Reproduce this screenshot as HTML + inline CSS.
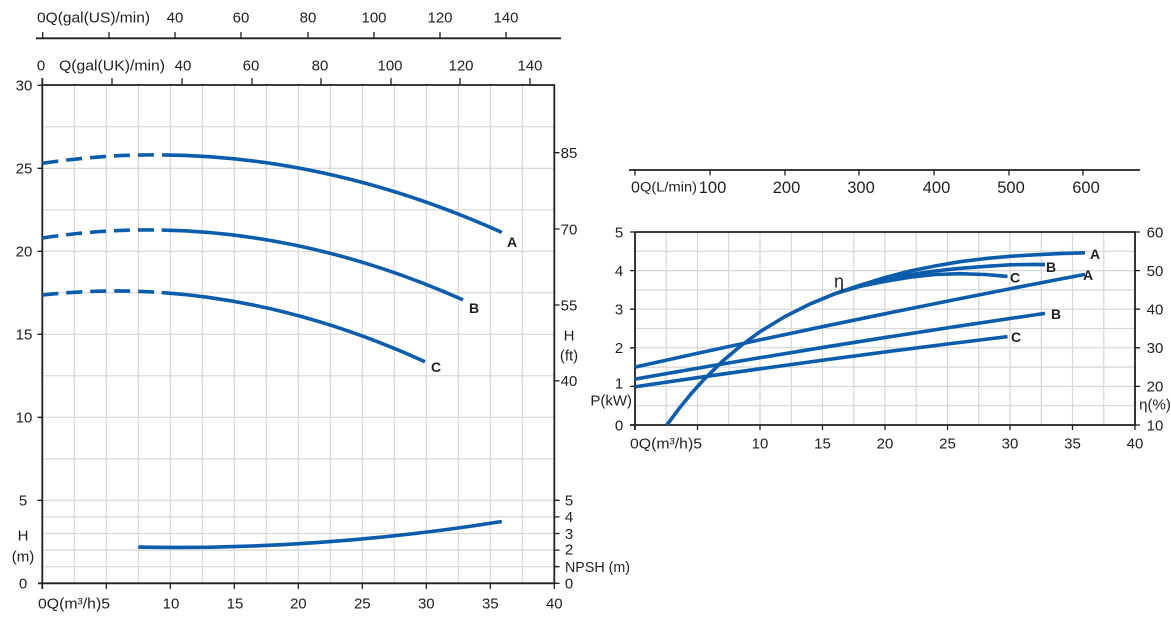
<!DOCTYPE html>
<html><head><meta charset="utf-8"><style>
html,body{margin:0;padding:0;background:#fff;}
svg{display:block;}
text{font-family:"Liberation Sans",sans-serif;fill:#231f20;font-size:15px;}
.b{font-weight:bold;font-size:14px;}
.g{stroke:#d6d6d6;stroke-width:1.2;fill:none;}
.ax{stroke:#231f20;stroke-width:1.8;fill:none;}
.tk{stroke:#231f20;stroke-width:1.3;fill:none;}
.cv{stroke:#0b5dab;stroke-width:3.6;fill:none;stroke-linejoin:round;}
</style></head><body>
<svg width="1171" height="620" viewBox="0 0 1171 620" xmlns="http://www.w3.org/2000/svg">
<!-- ========== LEFT CHART ========== -->
<!-- grid vertical -->
<g class="g">
<path d="M74.3 85V583.3M106.3 85V583.3M138.3 85V583.3M170.3 85V583.3M202.3 85V583.3M234.3 85V583.3M266.3 85V583.3M298.3 85V583.3M330.3 85V583.3M362.3 85V583.3M394.3 85V583.3M426.3 85V583.3M458.3 85V583.3M490.3 85V583.3M522.3 85V583.3"/>
<path d="M42.3 566.7H554.3M42.3 550.1H554.3M42.3 533.5H554.3M42.3 516.9H554.3M42.3 500.3H554.3M42.3 458.8H554.3M42.3 417.3H554.3M42.3 375.8H554.3M42.3 334.3H554.3M42.3 292.8H554.3M42.3 251.3H554.3M42.3 209.8H554.3M42.3 168.3H554.3M42.3 126.8H554.3"/>
</g>
<!-- frame -->
<path class="ax" d="M42.3 78V589M38 583.3H554.3V85H42.3"/>
<!-- top US axis -->
<path class="ax" d="M36 38.3H561"/>
<path class="tk" d="M42.7 32V38.3M109 32V38.3M175 32V38.3M241 32V38.3M308 32V38.3M374 32V38.3M440 32V38.3M506 32V38.3"/>
<text x="37" y="17" dy="0.35em" textLength="113" lengthAdjust="spacingAndGlyphs">0Q(gal(US)/min)</text>
<text x="175" y="17" dy="0.35em" text-anchor="middle">40</text>
<text x="241" y="17" dy="0.35em" text-anchor="middle">60</text>
<text x="308" y="17" dy="0.35em" text-anchor="middle">80</text>
<text x="374" y="17" dy="0.35em" text-anchor="middle">100</text>
<text x="440" y="17" dy="0.35em" text-anchor="middle">120</text>
<text x="506" y="17" dy="0.35em" text-anchor="middle">140</text>
<!-- UK axis (top of frame) -->
<path class="tk" d="M112 78V85M182 78V85M252 78V85M321 78V85M391 78V85M460 78V85M530 78V85"/>
<text x="41" y="65" dy="0.35em" text-anchor="middle">0</text>
<text x="59" y="65" dy="0.35em" textLength="106" lengthAdjust="spacingAndGlyphs">Q(gal(UK)/min)</text>
<text x="183" y="65" dy="0.35em" text-anchor="middle">40</text>
<text x="251" y="65" dy="0.35em" text-anchor="middle">60</text>
<text x="320" y="65" dy="0.35em" text-anchor="middle">80</text>
<text x="390" y="65" dy="0.35em" text-anchor="middle">100</text>
<text x="461" y="65" dy="0.35em" text-anchor="middle">120</text>
<text x="530" y="65" dy="0.35em" text-anchor="middle">140</text>
<!-- left ticks & labels -->
<path class="tk" d="M37.5 85.3H42.3M37.5 168.3H42.3M37.5 251.3H42.3M37.5 334.3H42.3M37.5 417.3H42.3M37.5 500.3H42.3"/>
<text x="24" y="85.3" dy="0.35em" text-anchor="middle">30</text>
<text x="24" y="168.3" dy="0.35em" text-anchor="middle">25</text>
<text x="24" y="251.3" dy="0.35em" text-anchor="middle">20</text>
<text x="24" y="334.3" dy="0.35em" text-anchor="middle">15</text>
<text x="24" y="417.3" dy="0.35em" text-anchor="middle">10</text>
<text x="23" y="500.3" dy="0.35em" text-anchor="middle">5</text>
<text x="23" y="535" dy="0.35em" text-anchor="middle">H</text>
<text x="23" y="556" dy="0.35em" text-anchor="middle">(m)</text>
<text x="23" y="583.3" dy="0.35em" text-anchor="middle">0</text>
<!-- bottom ticks & labels -->
<path class="tk" d="M106.3 583.3V589M170.3 583.3V589M234.3 583.3V589M298.3 583.3V589M362.3 583.3V589M426.3 583.3V589M490.3 583.3V589M554.3 583.3V589"/>
<text x="38" y="603" dy="0.35em" textLength="72" lengthAdjust="spacingAndGlyphs">0Q(m³/h)5</text>
<text x="171" y="603" dy="0.35em" text-anchor="middle">10</text>
<text x="235" y="603" dy="0.35em" text-anchor="middle">15</text>
<text x="298.3" y="603" dy="0.35em" text-anchor="middle">20</text>
<text x="362.3" y="603" dy="0.35em" text-anchor="middle">25</text>
<text x="426.3" y="603" dy="0.35em" text-anchor="middle">30</text>
<text x="490.3" y="603" dy="0.35em" text-anchor="middle">35</text>
<text x="554.3" y="603" dy="0.35em" text-anchor="middle">40</text>
<!-- right ticks & labels -->
<path class="tk" d="M554.3 152.7H559.5M554.3 229H559.5M554.3 305H559.5M554.3 380.8H559.5M554.3 500.3H559.5M554.3 516.9H559.5M554.3 533.5H559.5M554.3 550.1H559.5M554.3 566.7H559.5M554.3 583.3H559.5"/>
<text x="569" y="152.7" dy="0.35em" text-anchor="middle">85</text>
<text x="569" y="229" dy="0.35em" text-anchor="middle">70</text>
<text x="569" y="305" dy="0.35em" text-anchor="middle">55</text>
<text x="569" y="335" dy="0.35em" text-anchor="middle">H</text>
<text x="569" y="355" dy="0.35em" text-anchor="middle">(ft)</text>
<text x="569" y="380.8" dy="0.35em" text-anchor="middle">40</text>
<text x="569" y="500.3" dy="0.35em" text-anchor="middle">5</text>
<text x="569" y="516.9" dy="0.35em" text-anchor="middle">4</text>
<text x="569" y="533.5" dy="0.35em" text-anchor="middle">3</text>
<text x="569" y="549" dy="0.35em" text-anchor="middle">2</text>
<text x="565" y="566.7" dy="0.35em" textLength="65" lengthAdjust="spacingAndGlyphs">NPSH (m)</text>
<text x="569" y="583.3" dy="0.35em" text-anchor="middle">0</text>
<!-- curves -->
<path class="cv" stroke-dasharray="16 8" d="M42.3 163.3Q102.1 154.5 158 154.9"/>
<path class="cv" d="M162 154.9Q331.9 156.1 501.8 232.4"/>
<path class="cv" stroke-dasharray="16 8" d="M42.3 238Q102 229 157.5 230"/>
<path class="cv" d="M161.7 230.1Q312.4 232.8 463 299.9"/>
<path class="cv" stroke-dasharray="16 8" d="M42.3 295Q102 288.6 157.5 292.3"/>
<path class="cv" d="M161.7 292.6Q293.4 301.6 425 361.7"/>
<path class="cv" d="M138.3 547.1Q320.1 550.5 501.8 521.5"/>
<text class="b" x="512" y="242" dy="0.35em" text-anchor="middle">A</text>
<text class="b" x="474" y="308" dy="0.35em" text-anchor="middle">B</text>
<text class="b" x="436" y="367" dy="0.35em" text-anchor="middle">C</text>

<!-- ========== RIGHT CHART ========== -->
<!-- L/min axis -->
<path class="ax" d="M629 170H1140"/>
<path class="tk" d="M635 170V175.5M710 170V175.5M785 170V175.5M859 170V175.5M934 170V175.5M1009 170V175.5M1083 170V175.5"/>
<text x="631" y="187" dy="0.35em" style="font-size:16px">0</text>
<text x="640" y="187" dy="0.35em" style="font-size:13.5px" textLength="57" lengthAdjust="spacingAndGlyphs">Q(L/min)</text>
<text x="712.5" y="187" dy="0.35em" text-anchor="middle" style="font-size:16.5px">100</text>
<text x="786.5" y="187" dy="0.35em" text-anchor="middle" style="font-size:16.5px">200</text>
<text x="861" y="187" dy="0.35em" text-anchor="middle" style="font-size:16.5px">300</text>
<text x="936.5" y="187" dy="0.35em" text-anchor="middle" style="font-size:16.5px">400</text>
<text x="1011" y="187" dy="0.35em" text-anchor="middle" style="font-size:16.5px">500</text>
<text x="1086" y="187" dy="0.35em" text-anchor="middle" style="font-size:16.5px">600</text>
<!-- grid -->
<g class="g">
<path d="M666.25 232V425M697.5 232V425M728.75 232V425M760 232V425M791.25 232V425M822.5 232V425M853.75 232V425M885 232V425M916.25 232V425M947.5 232V425M978.75 232V425M1010 232V425M1041.25 232V425M1072.5 232V425M1103.75 232V425"/>
<path d="M635 405.7H1135M635 386.4H1135M635 367.1H1135M635 347.8H1135M635 328.5H1135M635 309.2H1135M635 289.9H1135M635 270.6H1135M635 251.3H1135"/>
</g>
<path class="ax" d="M635 232V430M630 425H1135V232H635"/>
<path class="tk" d="M630 232H635M630 270.6H635M630 309.2H635M630 347.8H635M630 386.4H635M1135 232H1140M1135 270.6H1140M1135 309.2H1140M1135 347.8H1140M1135 386.4H1140M1135 425H1140"/>
<path class="tk" d="M697.5 425V430M760 425V430M822.5 425V430M885 425V430M947.5 425V430M1010 425V430M1072.5 425V430M1135 425V430"/>
<text x="619" y="232" dy="0.35em" text-anchor="middle">5</text>
<text x="619" y="270.6" dy="0.35em" text-anchor="middle">4</text>
<text x="619" y="309.2" dy="0.35em" text-anchor="middle">3</text>
<text x="619" y="347.8" dy="0.35em" text-anchor="middle">2</text>
<text x="619" y="383" dy="0.35em" text-anchor="middle">1</text>
<text x="632" y="400" dy="0.35em" text-anchor="end">P(kW)</text>
<text x="619" y="425" dy="0.35em" text-anchor="middle">0</text>
<text x="1155" y="232" dy="0.35em" text-anchor="middle">60</text>
<text x="1155" y="270.6" dy="0.35em" text-anchor="middle">50</text>
<text x="1155" y="309.2" dy="0.35em" text-anchor="middle">40</text>
<text x="1155" y="347.8" dy="0.35em" text-anchor="middle">30</text>
<text x="1155" y="386.4" dy="0.35em" text-anchor="middle">20</text>
<text x="1155" y="404" dy="0.35em" text-anchor="middle">η(%)</text>
<text x="1155" y="425" dy="0.35em" text-anchor="middle">10</text>
<text x="630" y="443" dy="0.35em" textLength="72" lengthAdjust="spacingAndGlyphs">0Q(m³/h)5</text>
<text x="760" y="443" dy="0.35em" text-anchor="middle">10</text>
<text x="822.5" y="443" dy="0.35em" text-anchor="middle">15</text>
<text x="885" y="443" dy="0.35em" text-anchor="middle">20</text>
<text x="947.5" y="443" dy="0.35em" text-anchor="middle">25</text>
<text x="1010" y="443" dy="0.35em" text-anchor="middle">30</text>
<text x="1072.5" y="443" dy="0.35em" text-anchor="middle">35</text>
<text x="1135" y="443" dy="0.35em" text-anchor="middle">40</text>
<!-- power curves -->
<path class="cv" d="M635 367.1Q860 317 1085 274.4"/>
<path class="cv" d="M635 379.1Q840 343.1 1045 313.4"/>
<path class="cv" d="M635 386.8Q821.25 359.1 1007.5 336.6"/>
<!-- efficiency curves -->
<polyline class="cv" points="666.9,425 678.8,408.9 691.3,393.5 703.8,379.6 722.5,361.2 741.3,345.4 760,331.7 785,316.5 810,304 835,293.7 860,285.3 885,277.5 910,271 935,266 960,261.7 985,258.6 1010,256.3 1035,254.8 1060,253.6 1085,252.8"/>
<polyline class="cv" points="835,293.7 860,285.3 885,279.1 910,274.5 935,271 960,268.3 985,266.4 1010,264.8 1035,264.4 1045,264.6"/>
<polyline class="cv" points="810,304 835,293.7 860,286.4 885,281.4 910,277.2 935,274.5 960,273.7 985,274.5 1007.5,276.4"/>
<text x="839" y="281" dy="0.35em" text-anchor="middle" style="font-size:18px">η</text>
<text class="b" x="1095" y="254" dy="0.35em" text-anchor="middle">A</text>
<text class="b" x="1051" y="267" dy="0.35em" text-anchor="middle">B</text>
<text class="b" x="1015" y="277.5" dy="0.35em" text-anchor="middle">C</text>
<text class="b" x="1088" y="275" dy="0.35em" text-anchor="middle">A</text>
<text class="b" x="1056" y="314" dy="0.35em" text-anchor="middle">B</text>
<text class="b" x="1016" y="337" dy="0.35em" text-anchor="middle">C</text>
</svg>
</body></html>
